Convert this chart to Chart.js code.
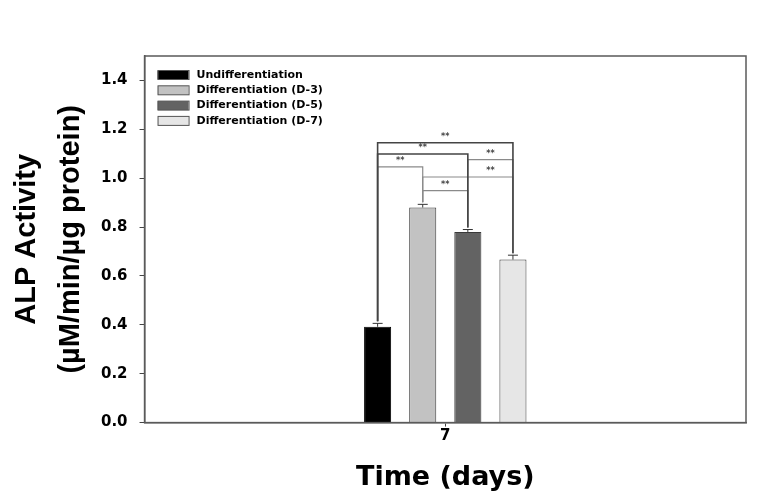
<!DOCTYPE html>
<html>
<head>
<meta charset="utf-8">
<script src="https://cdn.jsdelivr.net/npm/chart.js@4/dist/chart.umd.min.js"></script>
<style>
  html, body { margin: 0; padding: 0; background: #ffffff; }
  #wrap { width: 781px; height: 499px; }
</style>
</head>
<body>
<div id="wrap"><canvas id="c" width="781" height="499"></canvas></div>
<script>
// ---- data ----
const categories = ['7'];
const seriesLabels = ['Undifferentiation', 'Differentiation (D-3)', 'Differentiation (D-5)', 'Differentiation (D-7)'];
const seriesValues = [0.392, 0.880, 0.780, 0.667];
const seriesErrors = [0.014, 0.013, 0.010, 0.018];
const seriesColors = ['#000000', '#c2c2c2', '#636363', '#e6e6e6'];
const yTickValues = [0, 0.2, 0.4, 0.6, 0.8, 1.0, 1.2, 1.4];
// significance brackets: [from series, to series, level, label, label between series a/b, strong]
const brackets = [
  [1, 2, 0.949, '**', [1, 2], false],
  [1, 3, 1.005, '**', [2, 3], false],
  [0, 1, 1.046, '**', [0, 1], false],
  [2, 3, 1.076, '**', [2, 3], false],
  [0, 2, 1.099, '**', [0, 2], true],
  [0, 3, 1.145, '**', [0, 3], true]
];

const datasets = seriesLabels.map((lab, i) => ({
  label: lab,
  data: [seriesValues[i]],
  backgroundColor: seriesColors[i],
  borderColor: i === 0 ? '#000000' : '#3a3a3a',
  borderWidth: 1,
  barPercentage: 0.6,
  categoryPercentage: 0.3
}));

const errTopPx = (chart, i) => {
  const ys = chart.scales.y;
  return ys.getPixelForValue(seriesValues[i] + seriesErrors[i]);
};
const barX = (chart, i) => chart.getDatasetMeta(i).data[0].x;

const extrasPlugin = {
  id: 'extras',
  afterDatasetsDraw(chart) {
    const ctx = chart.ctx;
    const ys = chart.scales.y;
    ctx.save();
    // error bars
    ctx.strokeStyle = '#333333';
    ctx.lineWidth = 1;
    seriesValues.forEach((v, i) => {
      const x = barX(chart, i);
      const y0 = ys.getPixelForValue(v);
      const y1 = errTopPx(chart, i);
      ctx.beginPath();
      ctx.moveTo(x, y0); ctx.lineTo(x, y1);
      ctx.moveTo(x - 5, y1); ctx.lineTo(x + 5, y1);
      ctx.stroke();
    });
    // brackets
    brackets.forEach(([a, b, lvl, lab, between, strong]) => {
      const xa = barX(chart, a), xb = barX(chart, b);
      const y = ys.getPixelForValue(lvl);
      ctx.strokeStyle = strong ? '#444444' : '#8a8a8a';
      ctx.lineWidth = strong ? 1.6 : 1.2;
      ctx.beginPath();
      ctx.moveTo(xa, errTopPx(chart, a) - 2);
      ctx.lineTo(xa, y);
      ctx.lineTo(xb, y);
      ctx.lineTo(xb, errTopPx(chart, b) - 2);
      ctx.stroke();
      const lx = (barX(chart, between[0]) + barX(chart, between[1])) / 2;
      ctx.fillStyle = '#444444';
      ctx.font = 'bold 8px "DejaVu Sans"';
      ctx.textAlign = 'center';
      ctx.textBaseline = 'middle';
      ctx.fillText(lab, lx, y - 6);
    });
    ctx.restore();
  },
  afterDraw(chart) {
    const ctx = chart.ctx;
    const ca = chart.chartArea;
    ctx.save();
    // frame
    ctx.strokeStyle = '#5a5a5a';
    ctx.lineWidth = 1.5;
    ctx.strokeRect(ca.left, ca.top, ca.right - ca.left, ca.bottom - ca.top);
    // legend
    const bx = ca.left + 13, by = ca.top + 19;
    ctx.font = 'bold 11px "DejaVu Sans"';
    ctx.textAlign = 'left';
    ctx.textBaseline = 'middle';
    chart.data.datasets.forEach((ds, i) => {
      const y = by + i * 15.3;
      ctx.fillStyle = ds.backgroundColor;
      ctx.fillRect(bx, y - 4.5, 31, 9);
      ctx.strokeStyle = '#555555';
      ctx.lineWidth = 1;
      ctx.strokeRect(bx + 0.5, y - 4.5, 31, 9);
      ctx.fillStyle = '#000000';
      ctx.fillText(ds.label, bx + 39, y);
    });
    ctx.restore();
  }
};

new Chart(document.getElementById('c'), {
  type: 'bar',
  data: { labels: categories, datasets },
  plugins: [extrasPlugin],
  options: {
    responsive: false,
    animation: false,
    layout: { padding: { left: 0, top: 56, right: 35, bottom: 0 } },
    plugins: { legend: { display: false }, tooltip: { enabled: false } },
    scales: {
      x: {
        grid: { display: true, drawOnChartArea: false, drawTicks: true, tickLength: 4, offset: false, color: '#444444' },
        border: { display: true, color: '#6a6a6a', width: 1.5 },
        ticks: { color: '#000000', padding: 1, font: { family: '"DejaVu Sans"', weight: 'bold', size: 15 } },
        title: {
          display: true, text: 'Time (days)', color: '#000000',
          font: { family: '"DejaVu Sans"', weight: 'bold', size: 27, lineHeight: 1.2 },
          padding: { top: 15, bottom: 5 }
        }
      },
      y: {
        min: 0, max: 1.5,
        afterBuildTicks: (scale) => { scale.ticks = yTickValues.map(v => ({ value: v })); },
        grid: { display: true, drawOnChartArea: false, drawTicks: true, tickLength: 5, color: '#444444' },
        border: { display: true, color: '#5a5a5a', width: 1.5 },
        ticks: {
          color: '#000000', padding: 12,
          font: { family: '"DejaVu Sans"', weight: 'bold', size: 15 },
          callback: (v) => Number(v).toFixed(1)
        },
        title: {
          display: true, text: ['ALP Activity', '(\u00B5M/min/\u00B5g protein)'], color: '#000000',
          font: { family: '"Liberation Sans", Arial, sans-serif', weight: 'bold', size: 29, lineHeight: 1.517 },
          padding: { top: 5, bottom: -4 }
        }
      }
    }
  }
});
</script>
</body>
</html>
